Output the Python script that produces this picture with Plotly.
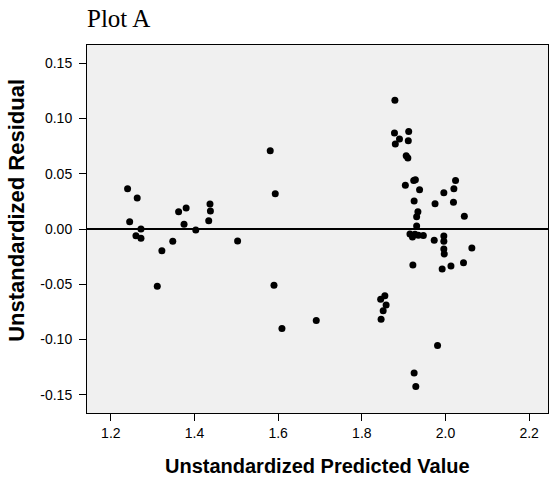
import plotly.graph_objects as go

# Data
predicted = [
    1.240, 1.245, 1.263, 1.272, 1.260, 1.272, 1.322, 1.311, 1.348, 1.362,
    1.380, 1.375, 1.403, 1.437, 1.438, 1.434, 1.503, 1.581, 1.593, 1.590,
    1.609, 1.691,
    1.845, 1.855, 1.858, 1.851, 1.846, 1.878, 1.879, 1.880, 1.890, 1.904,
    1.906, 1.910, 1.911, 1.912, 1.922, 1.924, 1.928, 1.925, 1.925, 1.929,
    1.934, 1.931, 1.931, 1.938, 1.915, 1.921, 1.927, 1.935, 1.947,
    1.973, 1.975, 1.981, 1.996, 1.996, 1.996, 1.996, 1.997, 1.992, 2.013,
    2.019, 2.020, 2.024, 2.043, 2.045, 2.063,
]
residual = [
    0.0365, 0.0066, 0.0280, 0.0000, -0.0060, -0.0084, -0.0196, -0.0518, -0.0110, 0.0157,
    0.0190, 0.0042, -0.0010, 0.0226, 0.0163, 0.0075, -0.0109, 0.0708, 0.0319, -0.0509,
    -0.0901, -0.0829,
    -0.0636, -0.0603, -0.0687, -0.0739, -0.0817, 0.0868, 0.1166, 0.0769, 0.0814, 0.0395,
    0.0663, 0.0642, 0.0798, 0.0883, -0.0326, 0.0440, 0.0446, 0.0253, -0.1302, -0.1426,
    0.0157, 0.0111, 0.0027, 0.0356, -0.0045, -0.0072, -0.0048, -0.0057, -0.0058,
    -0.0102, 0.0229, -0.1055, 0.0329, -0.0063, -0.0111, -0.0181, -0.0226, -0.0362, -0.0335,
    0.0241, 0.0364, 0.0440, -0.0305, 0.0115, -0.0172,
]

x_ticks = [1.2, 1.4, 1.6, 1.8, 2.0, 2.2]
x_tick_labels = ["1.2", "1.4", "1.6", "1.8", "2.0", "2.2"]
y_ticks = [0.15, 0.10, 0.05, 0.00, -0.05, -0.10, -0.15]
y_tick_labels = ["0.15", "0.10", "0.05", "0.00", "-0.05", "-0.10", "-0.15"]

title_text = "Plot A"
x_title = "Unstandardized Predicted Value"
y_title = "Unstandardized Residual"

fig = go.Figure()
fig.add_trace(go.Scatter(
    x=predicted, y=residual, mode="markers",
    marker=dict(color="black", size=7, line=dict(width=0)),
    showlegend=False, hoverinfo="skip",
))

axis_common = dict(
    showgrid=False, showline=True, linecolor="black", linewidth=1, mirror=True,
    ticks="outside", ticklen=7, tickwidth=1, tickcolor="black",
    tickfont=dict(family="Liberation Sans, Arial, sans-serif", size=14, color="black"),
)

fig.update_layout(
    width=550, height=483,
    margin=dict(l=87, r=2, t=45, b=70),
    paper_bgcolor="white", plot_bgcolor="#f0f0f0",
    xaxis=dict(range=[1.143, 2.245], tickvals=x_ticks, ticktext=x_tick_labels,
               zeroline=False, **axis_common),
    yaxis=dict(range=[-0.1665, 0.1665], tickvals=y_ticks, ticktext=y_tick_labels,
               zeroline=True, zerolinecolor="black", zerolinewidth=1.5,
               ticklabelstandoff=4, **axis_common),
    annotations=[
        dict(text=title_text, xref="paper", yref="paper", x=-0.004, y=1.073,
             xanchor="left", yanchor="middle", showarrow=False,
             font=dict(family="Liberation Serif, Times New Roman, serif", size=25, color="black")),
        dict(text="<b>" + x_title + "</b>", xref="paper", yref="paper", x=0.501, y=-0.144,
             xanchor="center", yanchor="middle", showarrow=False,
             font=dict(family="Liberation Sans, Arial, sans-serif", size=20, color="black")),
        dict(text="<b>" + y_title + "</b>", xref="paper", yref="paper", x=-0.152, y=0.552,
             xanchor="center", yanchor="middle", showarrow=False, textangle=-90,
             font=dict(family="Liberation Sans, Arial, sans-serif", size=22, color="black")),
    ],
)

fig.write_html("out.html")
